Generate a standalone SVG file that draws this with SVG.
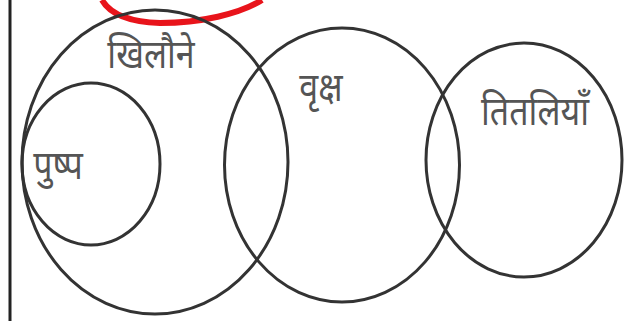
<svg xmlns="http://www.w3.org/2000/svg" width="624" height="321" viewBox="0 0 624 321">
<style>
.c{fill:none;stroke:#333;stroke-width:3}
.t{font-family:"Noto Sans","Noto Sans Devanagari","Lohit Devanagari","DejaVu Sans",sans-serif;fill:#555;font-size:40px;text-anchor:middle}
</style>
<rect width="624" height="321" fill="#fff"/>
<line x1="10" y1="0" x2="10" y2="321" stroke="#222" stroke-width="3"/>
<path d="M102,0 C110,14 130,22 160,23 C200,23 240,14 262,0" fill="none" stroke="#e8141b" stroke-width="6"/>
<g id="khilaune"><ellipse class="c" cx="155" cy="162" rx="133" ry="152"/><text class="t" transform="translate(151,68) scale(0.85,1)">खिलौने</text></g>
<g id="pushp"><ellipse class="c" cx="91" cy="164" rx="69" ry="81"/><text class="t" transform="translate(58,179) scale(0.85,1)">पुष्प</text></g>
<g id="vriksh"><ellipse class="c" cx="342" cy="165" rx="117.5" ry="137"/><text class="t" transform="translate(321,101) scale(0.85,1)">वृक्ष</text></g>
<g id="titliyan"><ellipse class="c" cx="524" cy="160" rx="98" ry="117"/><text class="t" transform="translate(535,125) scale(0.85,1)">तितलियाँ</text></g>
</svg>
